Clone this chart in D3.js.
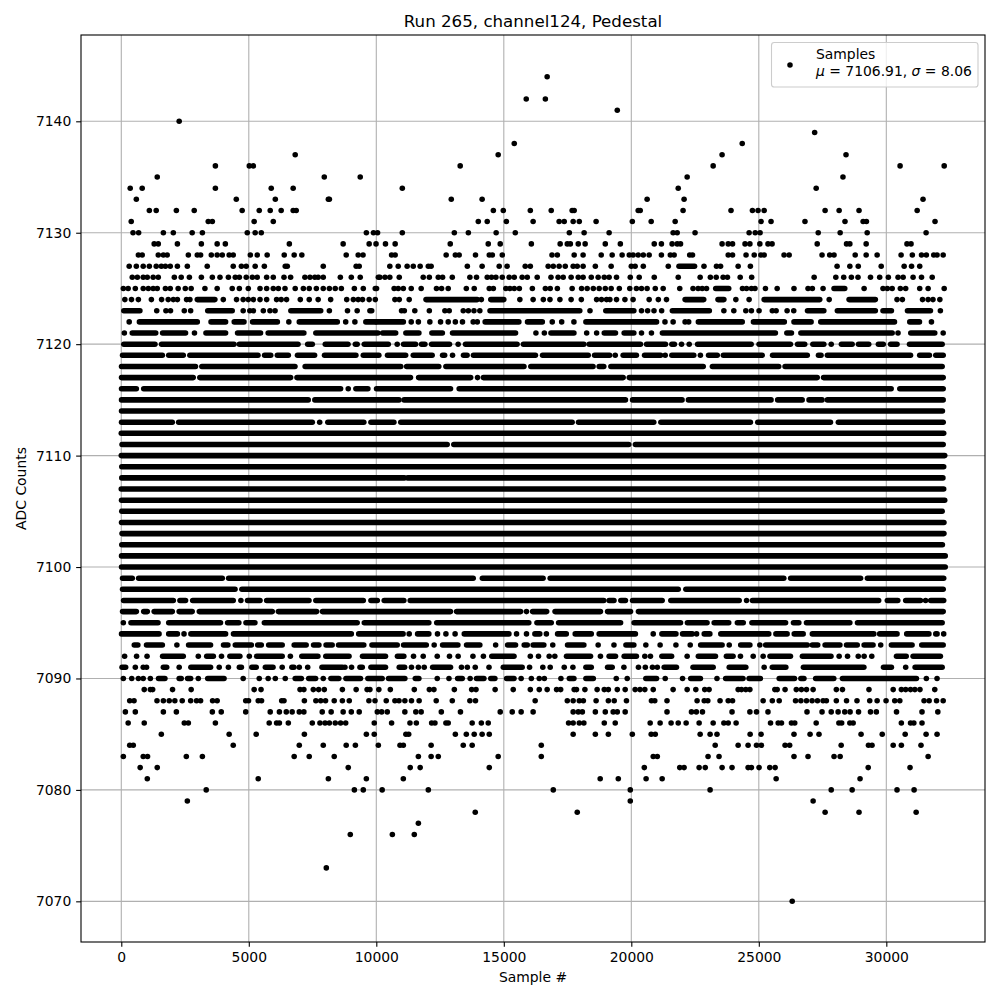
<!DOCTYPE html>
<html><head><meta charset="utf-8">
<script src="https://cdn.jsdelivr.net/npm/d3@7"></script>
<style>html,body{margin:0;background:#fff}svg{display:block}text{font-family:"DejaVu Sans";fill:#000}</style>
</head><body><svg id="c" width="1000" height="1000"></svg>
<script>
// Each list: sample numbers at that ADC level. A plain number is one sample; [a,b] is an unbroken run of samples.
const r7144=[16700];
const r7142=[15880,16630];
const r7141=[19450];
const r7140=[2270];
const r7139=[27190];
const r7138=[15410,24350];
const r7137=[6820,14780,23560,28420];
const r7136=[3690,5020,5180,13290,23210,30540,32270];
const r7135=[1410,7960,9370,22190,28300];
const r7134=[350,820,3690,5880,6740,11020,21840,27250];
const r7133=[590,4510,6040,8120,8160,12940,14150,20620,22070,31440];
const r7132=[1100,1370,2160,2860,4740,5410,5840,6270,6740,6860,14590,14980,16040,16860,17680,17760,20270,20350,22030,23910,24750,24970,25210,27600,28150,28930,31210];
const r7131=[390,3410,3570,5210,5960,14000,14350,15100,16150,17170,17370,17720,17960,18620,20040,20780,21720,25090,25480,26810,28380,29090,29220,31910];
const r7130=[460,680,1650,2040,2780,3180,4940,5250,5490,9610,9890,10050,11020,13060,13610,14700,15450,17570,18150,19130,21640,21800,22500,24620,24860,25050,27330,28190,29250,31560];
const r7129=[1290,1450,2200,3140,3760,4080,6590,8700,9720,9990,10360,10740,12900,14390,14860,16080,17210,17490,17610,17920,18190,18980,19570,20900,21180,21600,21800,21930,23560,23800,23970,24460,24650,25040,25360,25520,27290,28440,28570,29210,30810,30970];
const r7128=[670,820,1450,1650,1800,2630,2980,3110,3530,3760,3960,4230,4390,5060,5330,5720,6390,6780,7080,8820,9290,9480,10600,10740,12740,13100,13250,13890,14430,14550,14940,16890,17100,17760,18110,18820,19250,19640,19920,20070,20270,20470,20700,21180,21530,21680,22290,22400,23800,23970,24500,24820,25080,25210,25990,26190,27480,27780,27950,28780,29210,29640,30580,31020,31380,31570,31860,31990,32230];
const r7127=[310,590,860,1100,1370,1570,1730,1920,2200,2590,3370,4390,4710,4900,5250,5610,6430,6510,7920,9210,9330,10530,10860,11210,11450,11720,12040,12150,13570,14150,14820,15130,15840,16040,16740,16940,17170,17410,17720,17880,18110,18590,19210,20000,20150,20470,21450,[21870,22480],22850,23340,23500,24190,24670,28070,28570,28900,29800,30700,30990,31310];
const r7126=[430,630,860,1020,1250,1450,2080,2350,2670,3140,3570,3870,4200,4470,4630,4900,5140,5330,5700,5960,6380,6640,7200,7400,7590,7720,7920,8590,9020,9370,10080,10140,10340,10530,10900,11840,12080,12430,12600,12980,13670,13930,14350,14520,14690,14940,15210,15410,15720,15920,16310,16850,17130,17330,17640,17920,18110,18430,18700,18940,19130,19420,19960,20310,20900,21840,22700,23100,23330,23600,23770,24270,24720,27170,28020,28330,28630,28890,29380,29740,30080,30460,30660,31050,31380,31800];
const r7125=[80,270,550,860,1060,1250,1410,1730,1920,2230,2510,2740,3280,3760,4350,4630,4980,5440,5700,5960,6160,6420,6820,7140,7370,7650,7920,8160,8390,8630,9140,9490,9960,10010,10700,10860,11060,11370,11760,12360,12560,12820,13530,13840,14430,14590,15080,15240,15410,15610,16120,16630,16820,17100,17680,18050,18270,18510,18740,18980,19210,19530,19940,20200,20400,20620,20940,21250,21900,22420,22620,22780,22950,[23310,23820],24360,24520,24710,24850,25260,25720,26380,26930,27100,27520,[27950,28370],29130,29870,30040,30230,30550,30760,31310,31640,32270];
const r7124=[140,400,670,1180,1580,1840,2040,2200,2560,2690,[2980,3670],4000,4520,4780,4980,5180,5440,5700,6090,6270,6480,7020,7370,7720,8210,8840,9100,9290,9460,9720,9960,10730,10900,11290,[11950,13960],14120,[14490,15000],15630,16150,16550,16810,17200,17640,18040,18640,18830,19030,19160,19420,19750,20070,20700,21060,21380,[22110,22840],[23400,23630],24100,24620,[25210,27390],27760,[28540,29570],30420,30630,31420,31640,31830,32100];
const r7123=[[100,730],1390,1750,1930,2470,2720,[3390,4350],4780,5040,5180,5570,5830,6030,[6650,7820],8160,8870,9250,9750,9820,10990,11100,11510,12080,12690,12860,13410,13610,13830,14060,[14460,17980],18380,[19000,20100],20400,20640,20890,21190,[21610,23060],23630,24020,24490,24710,25010,25530,25680,26110,26370,[26910,27550],[28080,29570],[29870,30200],[30830,31730],32120];
const r7122=[310,[710,2980],[3520,4090],[4430,4810],[5150,6120],6570,[6980,8470],8800,9160,[9590,9970],[10010,11060],11370,11650,12100,12520,12820,13100,13380,13800,13960,[14270,15590],[15930,16510],16900,17270,17750,[18220,20990],21320,21640,22110,22250,[22630,24350],[24790,26000],[26380,27050],[27430,30320],[30920,31300],31770];
const r7121=[120,[430,1350],[1620,2520],2870,[3320,4090],[4560,5460],[5760,7160],[7630,10060],[10250,10760],[11160,11670],[12180,12590],[12990,15460],16260,16590,[16850,17750],18250,18640,[18940,19380],[19720,20100],20400,20790,[21220,25650],[26100,26280],[26650,30230],30460,[30960,31900],32230];
const r7120=[[100,1320],[1580,4420],[4630,6930],[7310,7490],[8000,8890],[9180,9250],[9530,10470],10820,[11070,11540],[11775,11905],[12170,12870],13210,[13500,15520],[15770,18140],[18350,20360],[20600,21340],[21590,21690],21970,22270,[22600,24700],[25010,26240],[26520,26800],[27120,27550],27840,[28240,28660],[28910,29310],[29690,29880],[30170,30420],[30910,32190]];
const r7119=[[50,1610],[1860,2430],[2690,5360],[5620,5860],[6120,6550],[6910,7580],[7970,9200],[9490,10100],[10440,11150],[11450,12190],[12600,12680],12990,[13420,13560],[13810,16240],[16520,18310],[18560,19150],19370,[19680,20200],[20520,21150],21330,[21590,22450],22710,[23030,23370],[23610,25130],[25540,26900],[27340,27440],[27690,30950],[31310,31690],[31940,32230]];
const r7118=[[10,2910],[3160,6810],[7210,10960],[11190,12450],[12730,15790],[16060,18500],[18740,18920],[19200,22820],[23180,25780],[26030,32190]];
const r7117=[[10,2820],[3080,6640],[6890,11340],[11660,13700],13970,[14200,19680],[19920,27290],[27540,32230]];
const r7116=[[10,590],[880,8600],8900,[9200,9670],[10010,12910],[13250,30190],[30530,32230]];
const r7115=[[10,7330],[7590,10890],[11090,19770],[20050,21990],[22240,25480],[25740,26700],[26970,27480],[27690,32230]];
const r7114=[[10,32200]];
const r7113=[[10,2000],[2250,7490],7780,[8100,9510],[9790,10690],[10960,17680],[17930,20880],[21160,24670],[24960,27810],[28120,32230]];
const r7112=[[0,32250]];
const r7111=[[30,12780],[13040,19900],[20160,32230]];
const r7110=[[0,32290]];
const r7109=[[20,32250]];
const r7108=[[20,11100],[11230,32220]];
const r7107=[[0,32250]];
const r7106=[[10,32290]];
const r7105=[[20,32190]];
const r7104=[[10,32260]];
const r7103=[[30,32260]];
const r7102=[[20,32200]];
const r7101=[[10,32310]];
const r7100=[[10,32310]];
const r7099=[[50,430],[680,3960],[4210,13800],[14160,16540],[16820,25980],[26250,28990],[29260,32250]];
const r7098=[[50,4460],[4730,21840],[22140,32230]];
const r7097=[[90,2040],[2300,2520],[2800,4390],4690,[4950,5440],[5700,7360],[7630,9490],[9790,10040],[10310,11080],[11330,18920],[19130,19320],[19590,19770],[20050,21210],[21550,24230],24520,[24750,29700],[30040,30450],[30760,31340],31540,[31740,32250]];
const r7096=[[50,590],[880,1020],[1290,2000],[2270,2780],[3060,5920],[6160,7660],[7890,12910],[13150,15660],15890,[16130,16680],[17010,18790],[19070,19970],[20280,32230]];
const r7095=[80,[380,1440],[1860,3890],[4170,4610],[4890,5240],[5610,9250],[9530,12060],[12370,15980],[16300,16860],[17150,19580],[20110,21930],[22200,22970],[23250,23820],[24160,24390],[24730,26050],[26360,26570],[26870,28570],[28870,32190]];
const r7094=[[10,1480],[1860,2200],2460,[2730,4090],[4400,9020],[9310,11050],11290,[11620,12060],12400,12730,13090,[13450,15200],15500,15890,[16220,16410],16670,[17110,17450],[17800,18430],[18740,20160],20860,[21200,21750],[22010,22390],22560,[22860,23080],[23510,25390],[25670,26110],[26390,26740],[27100,29510],[29740,30420],[30800,31670],[31940,31990],32250];
const r7093=[[510,650],[990,1610],2180,[2640,3500],[4010,4180],[4470,5100],[5350,5490],[5780,6310],[6780,7250],[7540,7750],[8030,8270],[8520,9510],[9830,10820],[11070,11960],12270,[12600,13200],[13540,14060],14680,[15150,15460],[15800,15920],[16150,16570],16920,[17500,18140],18700,19320,[19790,20100],20570,21130,21750,22310,[22720,23560],23840,[24290,24650],25040,[25270,26900],[27100,27310],[27600,28180],[28440,28860],[29130,29480],29780,[30200,31010],[31390,32230]];
const r7092=[130,600,1010,[1620,2430],3020,[3350,3610],3930,[4260,4650],5020,[5310,6310],6630,[7080,7710],[8020,8930],[9460,10360],[10830,11080],11460,11840,12390,12870,13210,13790,14200,[14530,15400],16040,16360,16780,17000,[17460,18400],18790,[19130,19380],[19720,20200],20530,20750,[21200,21580],22190,[22630,23300],[23730,23990],24280,24780,25170,[25440,26240],[26710,27830],28150,28480,28900,29130,29430,[30400,30780],[31050,32120]];
const r7091=[[30,170],550,860,990,[1650,1780],2270,[2730,3500],3840,4200,[4630,4710],[5120,5290],[5650,5950],6310,[6690,6770],6980,7310,[7870,8670],8770,9030,[9360,9450],[9790,10360],[10900,11110],11380,11650,11880,[12210,12910],13340,13570,13880,14420,[14980,15720],16010,16530,16820,17370,17710,[18220,18430],[19070,19250],19710,20280,20550,20830,21020,[21290,21770],[22420,23210],[23840,24490],25210,[25530,26060],[26750,29120],[29890,30200],30760,[31130,32190]];
const r7090=[80,410,670,860,1140,[1460,1710],[2270,2350],[2600,2720],3020,[3390,4030],4780,5410,5760,6040,6430,[6820,7060],[7350,7620],7920,[8220,8530],[8810,9380],[9670,10230],[10480,11120],[11530,11670],12390,12850,[13190,13370],13680,[13930,14220],[14490,14650],[15110,15400],15680,16080,16390,16590,17240,[17570,17750],[18220,18510],19410,19840,[20570,20990],21330,22010,[22330,22710],23360,[23700,24380],[24620,25060],[25800,26400],[26650,26770],[27230,27940],[28280,31180],31570,31990];
const r7089=[900,1140,1230,2010,2740,5210,5480,7010,7160,7530,7740,7960,8670,9210,9640,9750,10100,10550,11490,12080,12260,13060,13740,13910,14660,15370,16040,16390,16700,17070,17230,17760,17850,18180,18660,18940,19100,19450,19760,20150,20340,20530,20860,21640,22190,22530,22880,23050,24190,24320,24490,24650,25630,25720,26030,26470,26670,26870,27130,28040,28280,29320,30270,30590,30760,30950,31120,31320,31900];
const r7088=[330,500,1400,1650,1880,2100,2390,2720,2950,3110,3580,3760,4880,4990,5370,5500,6290,6380,7180,7630,7820,8010,8350,8670,8940,9710,9950,10390,10730,10890,11120,11380,11680,12350,12980,13670,13890,16230,17490,17720,17960,18120,18620,19100,19330,19810,20790,20920,21400,22580,22860,23000,23480,23800,23970,25170,25530,25800,26440,26650,26870,27090,27300,27520,27650,28040,28440,28850,29350,29640,29990,30330,30530,31480,31680,31970,32230];
const r7087=[160,550,1650,2160,3570,3920,4880,5840,6200,6470,6700,6980,7160,7880,8230,8700,9020,9330,10040,10210,10430,11120,11550,11760,12550,13300,14860,15330,15680,16150,17720,17920,18080,18590,18980,19290,19450,19760,21400,22360,22550,22790,23950,24650,24910,25360,26890,27480,27840,28110,28370,28580,28910,29380,29610,30400,31400,32020];
const r7086=[270,900,2470,2630,3690,5800,6090,6200,6550,7490,7790,7990,8160,8390,8600,8800,9920,10600,11320,11570,12170,12300,12730,12820,13760,14120,14390,17540,17720,17960,18140,18940,19370,20740,21130,21560,21840,22150,22660,23210,23630,23800,24110,25460,25760,25890,26280,26410,27250,28140,28250,28570,28700,30590,30950,31080,31400];
const r7085=[1570,4230,5290,7180,9610,9920,11160,11270,13100,13530,13840,14150,14430,17720,18590,19100,20040,20780,20940,22700,23090,23360,24660,25090,26380,27010,27360,29010,29840,30740,31560,31990];
const r7084=[330,470,4390,6980,7920,8820,9180,10080,10930,11060,12150,13410,13760,16470,23290,24190,24580,24910,25100,26030,26210,28230,29300,29440,30270,30590,31360];
const r7083=[80,860,1030,2550,3180,6780,7370,8350,11650,12150,12430,14780,16470,20860,21020,23010,23440,26380,26930,27950,28190,31640];
const r7082=[740,1410,8900,11330,11720,14430,20510,21900,22070,22660,22900,23560,23950,24580,24710,25010,25430,25640,29290,30930];
const r7081=[1020,5370,8120,9610,11060,18780,19490,20580,21210,25680,28970];
const r7080=[3330,9140,9490,10230,12040,16940,19960,23090,27840,28660,30420,31090];
const r7079=[2590,19960,27130];
const r7078=[13880,17880,27600,28930,31170];
const r7077=[11650];
const r7076=[8980,10630,11490];
const r7073=[8040];
const r7070=[26310];
const levels=[[7144,r7144],[7142,r7142],[7141,r7141],[7140,r7140],[7139,r7139],[7138,r7138],[7137,r7137],[7136,r7136],[7135,r7135],[7134,r7134],[7133,r7133],[7132,r7132],[7131,r7131],[7130,r7130],[7129,r7129],[7128,r7128],[7127,r7127],[7126,r7126],[7125,r7125],[7124,r7124],[7123,r7123],[7122,r7122],[7121,r7121],[7120,r7120],[7119,r7119],[7118,r7118],[7117,r7117],[7116,r7116],[7115,r7115],[7114,r7114],[7113,r7113],[7112,r7112],[7111,r7111],[7110,r7110],[7109,r7109],[7108,r7108],[7107,r7107],[7106,r7106],[7105,r7105],[7104,r7104],[7103,r7103],[7102,r7102],[7101,r7101],[7100,r7100],[7099,r7099],[7098,r7098],[7097,r7097],[7096,r7096],[7095,r7095],[7094,r7094],[7093,r7093],[7092,r7092],[7091,r7091],[7090,r7090],[7089,r7089],[7088,r7088],[7087,r7087],[7086,r7086],[7085,r7085],[7084,r7084],[7083,r7083],[7082,r7082],[7081,r7081],[7080,r7080],[7079,r7079],[7078,r7078],[7077,r7077],[7076,r7076],[7073,r7073],[7070,r7070]];
const xTicks=[0,5000,10000,15000,20000,25000,30000];
const yTicks=[7070,7080,7090,7100,7110,7120,7130,7140];

const L=81,R=985,T=35,B=942,DOT=5.56;
const x=d3.scaleLinear().domain([-1580,33870]).range([L,R]);
const y=d3.scaleLinear().domain([7066.35,7147.745]).range([B,T]);
const svg=d3.select('#c');
// axes
const xa=svg.append('g').attr('transform',`translate(0,${B})`).call(d3.axisBottom(x).tickValues(xTicks).tickFormat(d3.format('d')).tickSize(4.86).tickPadding(4.9));
const ya=svg.append('g').attr('transform',`translate(${L},0)`).call(d3.axisLeft(y).tickValues(yTicks).tickFormat(d3.format('d')).tickSize(4.86).tickPadding(4.9));
[xa,ya].forEach(a=>{a.select('.domain').remove();a.selectAll('line').attr('stroke','#000').attr('stroke-width',1.1);a.selectAll('text').style('font-family','DejaVu Sans').style('font-size','13.9px').attr('fill','#000');});
// grid
const grid=svg.append('g').attr('stroke','#b0b0b0').attr('stroke-width',1.1);
grid.selectAll('.v').data(xTicks).join('line').attr('x1',d=>x(d)).attr('x2',d=>x(d)).attr('y1',T).attr('y2',B);
grid.selectAll('.h').data(yTicks).join('line').attr('x1',L).attr('x2',R).attr('y1',d=>y(d)).attr('y2',d=>y(d));
// marks
const marks=svg.append('g');
const flat=levels.flatMap(([v,list])=>list.map(e=>({v,e})));
marks.selectAll('circle').data(flat.filter(d=>!Array.isArray(d.e))).join('circle')
 .attr('cx',d=>x(d.e)).attr('cy',d=>y(d.v)).attr('r',DOT/2).attr('fill','#000');
marks.selectAll('line').data(flat.filter(d=>Array.isArray(d.e))).join('line')
 .attr('x1',d=>x(d.e[0])).attr('x2',d=>x(d.e[1])).attr('y1',d=>y(d.v)).attr('y2',d=>y(d.v))
 .attr('stroke','#000').attr('stroke-width',DOT).attr('stroke-linecap','round');
// frame
svg.append('rect').attr('x',L).attr('y',T).attr('width',R-L).attr('height',B-T).attr('fill','none').attr('stroke','#000').attr('stroke-width',1.1);
// labels
svg.append('text').attr('x',(L+R)/2).attr('y',27).attr('text-anchor','middle').style('font-size','16.67px').text('Run 265, channel124, Pedestal');
svg.append('text').attr('x',(L+R)/2).attr('y',982).attr('text-anchor','middle').style('font-size','13.9px').text('Sample #');
svg.append('text').attr('transform',`translate(26,${(T+B)/2}) rotate(-90)`).attr('text-anchor','middle').style('font-size','13.9px').text('ADC Counts');
// legend
const lg=svg.append('g');
lg.append('rect').attr('x',771.5).attr('y',42.5).attr('width',206.5).attr('height',44.5).attr('rx',2.8).attr('fill','#fff').attr('fill-opacity',.8).attr('stroke','#ccc').attr('stroke-width',1.1);
lg.append('circle').attr('cx',790).attr('cy',65).attr('r',DOT/2).attr('fill','#000');
lg.append('text').attr('x',816).attr('y',59).style('font-size','13.9px').text('Samples');
const t=lg.append('text').attr('x',816).attr('y',76).style('font-size','13.9px');
t.append('tspan').style('font-style','italic').text('μ');
t.append('tspan').text(' = 7106.91, ');
t.append('tspan').style('font-style','italic').text('σ');
t.append('tspan').text(' = 8.06');
</script></body></html>
